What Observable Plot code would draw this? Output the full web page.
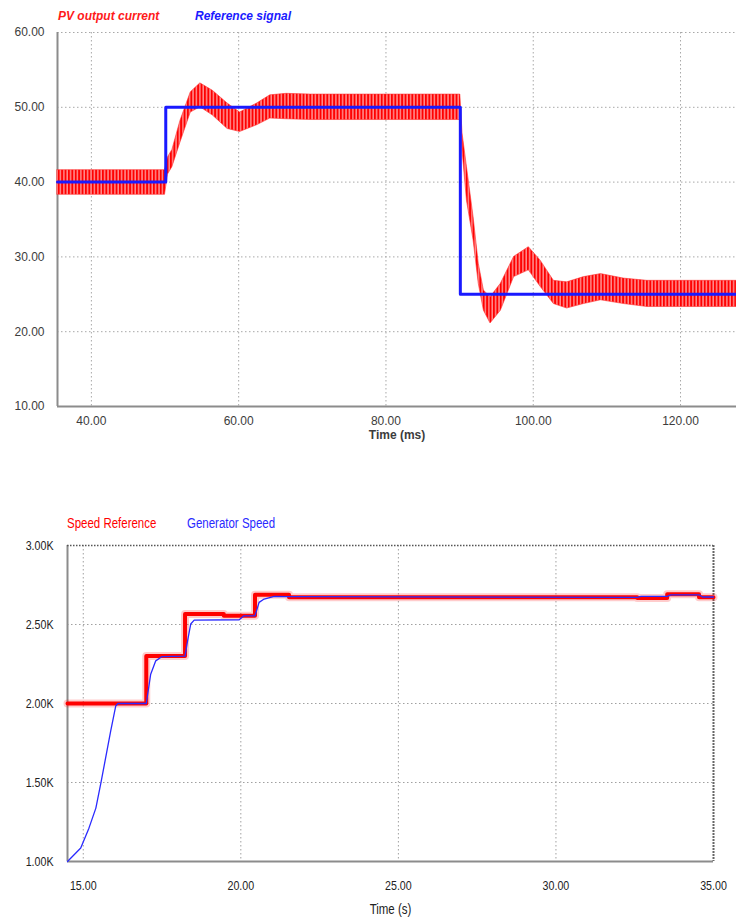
<!DOCTYPE html>
<html>
<head>
<meta charset="utf-8">
<script src="https://cdn.jsdelivr.net/npm/d3@7"></script>
<script src="https://cdn.jsdelivr.net/npm/@observablehq/plot@0.6"></script>
<style>
  html, body { margin: 0; padding: 0; background: #fff; }
  #wrap { position: relative; width: 736px; height: 920px; overflow: hidden; background: #fff; }
  .legend span { position: absolute; white-space: nowrap; line-height: 1; }
  #legend1 span { font: italic bold 12px "Liberation Sans", Arial, sans-serif; top: 9px; }
  #legend2 span { font: 14px "Liberation Sans", Arial, sans-serif; top: 515px; transform: scaleX(0.82); transform-origin: left center; }
  #chart1 { position: absolute; left: 0; top: 24px; }
  #chart2 { position: absolute; left: 0; top: 536px; }
  #chart1 g[aria-label="x-axis label"] text { font-weight: bold; font-size: 12px; }
  #chart2 g[aria-label="x-axis label"] text { font-size: 14px; }
</style>
</head>
<body>
<!-- vertical-stripe fill used for the switching ripple band of the PV current -->
<svg width="0" height="0" style="position:absolute">
  <defs>
    <pattern id="ripple" patternUnits="userSpaceOnUse" width="3.4" height="8">
      <rect width="3.4" height="8" fill="#ff8c8c"></rect>
      <rect width="1.9" height="8" fill="#ff0000"></rect>
    </pattern>
  </defs>
</svg>
<div id="wrap">
  <div class="legend" id="legend1"></div>
  <div id="chart1"></div>
  <div class="legend" id="legend2"></div>
  <div id="chart2"></div>
</div>
<script>
// ---------- Upper panel: PV output current vs. reference (time in ms) ----------
const currentSeries = ["PV output current", "Reference signal"];
const currentColors = ["#ff1a1a", "#1a1aff"];
const currentXDomain = [35.4, 127.6];
const currentYDomain = [10, 60];
const currentXTicks = [40, 60, 80, 100, 120];
const currentYTicks = [10, 20, 30, 40, 50, 60];

// envelope of the rippling PV current (lower / upper edge of the ripple band)
const pvTime = [35.4, 50.0, 50.4, 51.0, 52.1, 53.5, 54.8, 56.5, 58.5, 60.2, 62.5, 64.3, 66.5, 69.8, 90.1,
                90.4, 91.0, 91.9, 92.6, 93.3, 94.2, 95.6, 97.4, 99.4, 101.0, 102.8, 104.6, 106.9, 109.2, 112.3, 115.5, 127.6];
const pvHigh = [41.6, 41.6, 43.3, 44.3, 48.2, 52.0, 53.2, 52.2, 50.5, 49.3, 50.5, 51.6, 51.8, 51.7, 51.7,
                46.5, 42.0, 35.3, 29.1, 25.5, 24.6, 26.4, 30.0, 31.3, 29.5, 26.8, 26.6, 27.3, 27.7, 27.1, 26.8, 26.8];
const pvLow  = [38.3, 38.3, 41.0, 42.0, 45.3, 49.3, 50.0, 48.9, 47.1, 46.7, 47.6, 48.5, 48.4, 48.3, 48.3,
                44.2, 37.5, 32.2, 26.4, 22.8, 21.1, 22.8, 27.3, 28.2, 26.0, 23.7, 23.1, 23.7, 24.2, 23.7, 23.3, 23.3];

// reference current: piecewise constant steps
const refTime  = [35.4, 50.1, 90.1, 127.6];
const refValue = [40, 50, 25, 25];

// ---------- Lower panel: speed reference vs. generator speed (time in s) ----------
const speedSeries = ["Speed Reference", "Generator Speed"];
const speedColors = ["#ff0000", "#2a2aff"];
const speedXDomain = [14.5, 35];
const speedYDomain = [1000, 3000];
const speedXTicks = [15, 20, 25, 30, 35];
const speedYTicks = [1000, 1500, 2000, 2500, 3000];

const speedRefTime  = [14.5, 17.0, 18.23, 19.46, 20.45, 21.53, 32.58, 33.53, 34.54, 35.0];
const speedRefValue = [2000, 2300, 2566, 2555, 2688, 2672, 2667, 2692, 2672, 2672];

const genTime  = [14.5, 14.92, 15.18, 15.40, 15.56, 15.71, 15.87, 16.03, 16.1, 17.0, 17.14, 17.3, 17.5,
                  18.23, 18.31, 18.41, 18.52, 19.95, 20.1, 20.45, 20.58, 20.74, 21.06, 21.5,
                  32.58, 32.7, 33.53, 33.65, 34.54, 34.65, 35.0];
const genSpeed = [1000, 1085, 1211, 1338, 1497, 1656, 1825, 1984, 2000, 2000, 2185, 2270, 2297,
                  2300, 2397, 2503, 2528, 2530, 2555, 2555, 2640, 2661, 2678, 2676,
                  2672, 2678, 2678, 2688, 2688, 2674, 2674];

// ---------- tables built from the arrays ----------
const pvRows = pvTime.map((t, i) => ({t, lo: pvLow[i], hi: pvHigh[i]}));
const refRows = refTime.map((t, i) => ({t, v: refValue[i]}));
const speedRefRows = speedRefTime.map((t, i) => ({t, v: speedRefValue[i]}));
const genRows = genTime.map((t, i) => ({t, v: genSpeed[i]}));

const fmt2 = d3.format(".2f");
const fmtK = d => (d / 1000).toFixed(2) + "K";

// legends
function legend(el, names, colors, lefts) {
  names.forEach((n, i) => {
    const s = document.createElement("span");
    s.textContent = n;
    s.style.color = colors[i];
    s.style.left = lefts[i] + "px";
    el.appendChild(s);
  });
}
legend(document.getElementById("legend1"), currentSeries, currentColors, [58, 195]);
legend(document.getElementById("legend2"), speedSeries, speedColors, [67, 187]);

// squeeze axis texts horizontally to get a narrow typeface look
function condense(svg, factor) {
  svg.querySelectorAll('g[aria-label$="tick label"] text, g[aria-label$="axis label"] text').forEach(t => {
    const len = t.getComputedTextLength();
    t.setAttribute("textLength", (len * factor).toFixed(2));
    t.setAttribute("lengthAdjust", "spacingAndGlyphs");
  });
}

const chart1 = Plot.plot({
  width: 736,
  height: 424,
  marginTop: 8,
  marginRight: 0,
  marginBottom: 42,
  marginLeft: 57,
  style: {fontFamily: "'Liberation Sans', Arial, sans-serif", fontSize: "12px", color: "#3c3c3c", background: "transparent", overflow: "visible"},
  x: {domain: currentXDomain},
  y: {domain: currentYDomain},
  marks: [
    Plot.gridX({ticks: currentXTicks, stroke: "#a8a8a8", strokeOpacity: 1, strokeDasharray: "1.5,2.5"}),
    Plot.gridY({ticks: currentYTicks.slice(1), stroke: "#a8a8a8", strokeOpacity: 1, strokeDasharray: "1.5,2.5"}),
    Plot.ruleX([currentXDomain[0]], {stroke: "#8c8c8c", strokeWidth: 2}),
    Plot.ruleY([currentYDomain[0]], {stroke: "#8c8c8c", strokeWidth: 2}),
    Plot.areaY(pvRows, {x: "t", y1: "lo", y2: "hi", fill: "url(#ripple)", stroke: "#ff3030", strokeWidth: 0.6}),
    Plot.line(refRows, {x: "t", y: "v", curve: "step-after", stroke: currentColors[1], strokeWidth: 3}),
    Plot.axisX({ticks: currentXTicks, tickFormat: fmt2, tickSize: 0, tickPadding: 10,
                label: "Time (ms)", labelAnchor: "center", labelOffset: 32, labelArrow: "none"}),
    Plot.axisY({ticks: currentYTicks, tickFormat: fmt2, tickSize: 0, tickPadding: 13, label: null})
  ]
});
document.getElementById("chart1").appendChild(chart1);

const chart2 = Plot.plot({
  width: 736,
  height: 384,
  marginTop: 9,
  marginRight: 23,
  marginBottom: 59,
  marginLeft: 67,
  style: {fontFamily: "'Liberation Sans', Arial, sans-serif", fontSize: "13px", color: "#222", background: "transparent", overflow: "visible"},
  x: {domain: speedXDomain},
  y: {domain: speedYDomain},
  marks: [
    Plot.gridX({ticks: speedXTicks.slice(0, -1), stroke: "#a0a0a0", strokeOpacity: 1, strokeDasharray: "1.5,2.5"}),
    Plot.gridY({ticks: speedYTicks.slice(0, -1), stroke: "#a0a0a0", strokeOpacity: 1, strokeDasharray: "1.5,2.5"}),
    Plot.ruleX([speedXDomain[0]], {stroke: "#8c8c8c", strokeWidth: 2}),
    Plot.ruleY([speedYDomain[0]], {stroke: "#8c8c8c", strokeWidth: 2}),
    Plot.gridY({ticks: [speedYDomain[1]], stroke: "#555", strokeOpacity: 1, strokeWidth: 1.5, strokeDasharray: "1.5,1.5"}),
    Plot.gridX({ticks: [speedXDomain[1]], stroke: "#666", strokeOpacity: 1, strokeWidth: 2, strokeDasharray: "2,1"}),
    Plot.line(speedRefRows, {x: "t", y: "v", curve: "step-after", stroke: speedColors[0], strokeWidth: 8, strokeOpacity: 0.2}),
    Plot.line(speedRefRows, {x: "t", y: "v", curve: "step-after", stroke: speedColors[0], strokeWidth: 4}),
    Plot.line(genRows, {x: "t", y: "v", stroke: speedColors[1], strokeWidth: 1.3}),
    Plot.axisX({ticks: speedXTicks, tickFormat: fmt2, tickSize: 0, tickPadding: 19,
                label: "Time (s)", labelAnchor: "center", labelOffset: 52, labelArrow: "none"}),
    Plot.axisY({ticks: speedYTicks, tickFormat: fmtK, tickSize: 0, tickPadding: 14, label: null})
  ]
});
document.getElementById("chart2").appendChild(chart2);
condense(chart2, 0.82);
</script>
</body>
</html>
